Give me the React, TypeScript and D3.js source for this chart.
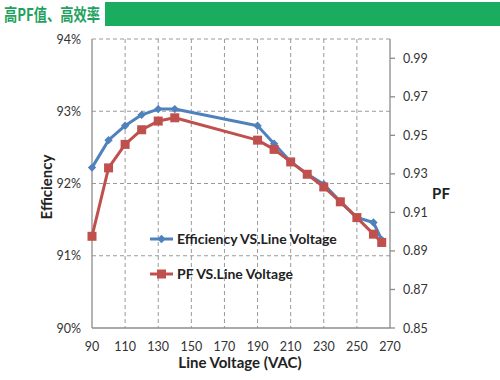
import React from "react";
import * as d3 from "d3";

const voltages = [90, 100, 110, 120, 130, 140, 190, 200, 210, 220, 230, 240, 250, 260, 265];
const efficiency = [92.22, 92.6, 92.8, 92.95, 93.03, 93.03, 92.8, 92.55, 92.3, 92.13, 91.99, 91.75, 91.53, 91.46, 91.22];
const powerFactor = [0.8976, 0.9331, 0.9453, 0.9529, 0.9574, 0.9591, 0.9475, 0.9427, 0.9362, 0.9298, 0.9232, 0.9155, 0.9073, 0.8987, 0.8944];
const xTicks = [90, 110, 130, 150, 170, 190, 210, 230, 250, 270];
const effTicks = [90, 91, 92, 93, 94];
const pfTicks = [0.85, 0.87, 0.89, 0.91, 0.93, 0.95, 0.97, 0.99];
const seriesNames = ["Efficiency VS.Line Voltage", "PF VS.Line Voltage"];

const BLUE = "#4f81bd";
const RED = "#c0504d";
const FONT = "Lato, 'Open Sans', sans-serif";

export default function App() {
  const left = 92, right = 390, top = 39, bottom = 328;
  const x = d3.scaleLinear().domain([90, 270]).range([left, right]);
  const yE = d3.scaleLinear().domain([90, 94]).range([bottom, top]);
  const yP = d3.scaleLinear().domain([0.85, 1.0]).range([bottom, top]);

  const effLine = d3.line<number>().x((_, i) => x(voltages[i])).y((d) => yE(d))(efficiency) || "";
  const pfLine = d3.line<number>().x((_, i) => x(voltages[i])).y((d) => yP(d))(powerFactor) || "";

  const diamond = (cx: number, cy: number, r: number) =>
    `M${cx},${cy - r}L${cx + r},${cy}L${cx},${cy + r}L${cx - r},${cy}Z`;

  const grid = "#9a9a9a";
  const axis = "#8c8c8c";
  const legX = 150, legY1 = 239, legY2 = 274;

  return (
    <svg width={500} height={380} style={{ position: "absolute", left: 0, top: 0, background: "#fff" }}>
      {/* header */}
      <text x={4} y={21} fontFamily="'Noto Sans CJK SC', sans-serif" fontWeight="bold" fontSize={17}
        fill="#1fa260" textLength={96} lengthAdjust="spacingAndGlyphs">
        高PF值、高效率
      </text>
      <rect x={105} y={2} width={395} height={24} fill="#1aad5f" />

      {/* vertical grid */}
      {xTicks.slice(1, -1).map((t) => (
        <line key={"vx" + t} x1={x(t)} x2={x(t)} y1={top} y2={bottom} stroke={grid} strokeDasharray="4,3" strokeWidth={1} />
      ))}
      {/* horizontal grid */}
      {effTicks.slice(1).map((t) => (
        <line key={"hy" + t} x1={left} x2={right} y1={yE(t)} y2={yE(t)} stroke={grid} strokeDasharray="4,3" strokeWidth={1} />
      ))}

      {/* axes */}
      <line x1={left} x2={left} y1={top} y2={bottom} stroke={axis} strokeWidth={1.3} />
      <line x1={left} x2={right} y1={bottom} y2={bottom} stroke={axis} strokeWidth={1.3} />
      <line x1={right} x2={right} y1={top} y2={bottom} stroke={axis} strokeWidth={1.3} />
      {pfTicks.map((t) => (
        <line key={"pt" + t} x1={right} x2={right + 5} y1={yP(t)} y2={yP(t)} stroke={axis} strokeWidth={1.3} />
      ))}

      {/* tick labels */}
      {effTicks.map((t) => (
        <text key={"el" + t} x={81} y={yE(t) + 4.5} textAnchor="end" fontFamily={FONT} fontSize={12.5} fill="#333">
          {t}%
        </text>
      ))}
      {pfTicks.map((t) => (
        <text key={"pl" + t} x={403} y={yP(t) + 4.5} fontFamily={FONT} fontSize={12.5} fill="#333">
          {t.toFixed(2)}
        </text>
      ))}
      {xTicks.map((t) => (
        <text key={"xl" + t} x={x(t)} y={351} textAnchor="middle" fontFamily={FONT} fontSize={12.5} fill="#333">
          {t}
        </text>
      ))}

      {/* axis titles */}
      <text x={240} y={368} textAnchor="middle" fontFamily={FONT} fontWeight="bold" fontSize={15} fill="#222">
        Line Voltage (VAC)
      </text>
      <text transform="translate(52,187) rotate(-90)" textAnchor="middle" fontFamily={FONT} fontWeight="bold" fontSize={15} fill="#222">
        Efficiency
      </text>
      <text x={441} y={199} textAnchor="middle" fontFamily={FONT} fontWeight="bold" fontSize={15} fill="#222">
        PF
      </text>

      {/* series */}
      <path d={effLine} fill="none" stroke={BLUE} strokeWidth={3} strokeLinejoin="round" />
      {efficiency.map((d, i) => (
        <path key={"ed" + i} d={diamond(x(voltages[i]), yE(d), 4.2)} fill={BLUE} />
      ))}
      <path d={pfLine} fill="none" stroke={RED} strokeWidth={3} strokeLinejoin="round" />
      {powerFactor.map((d, i) => (
        <rect key={"pr" + i} x={x(voltages[i]) - 4.5} y={yP(d) - 4.5} width={9} height={9} fill={RED} />
      ))}

      {/* legend */}
      <line x1={legX} x2={legX + 23} y1={legY1} y2={legY1} stroke={BLUE} strokeWidth={3} />
      <path d={diamond(legX + 11.5, legY1, 4.2)} fill={BLUE} />
      <text x={legX + 27} y={legY1 + 5} fontFamily={FONT} fontWeight="bold" fontSize={14} fill="#222">
        {seriesNames[0]}
      </text>
      <line x1={legX} x2={legX + 23} y1={legY2} y2={legY2} stroke={RED} strokeWidth={3} />
      <rect x={legX + 7} y={legY2 - 4.5} width={9} height={9} fill={RED} />
      <text x={legX + 27} y={legY2 + 5} fontFamily={FONT} fontWeight="bold" fontSize={14} fill="#222">
        {seriesNames[1]}
      </text>
    </svg>
  );
}
